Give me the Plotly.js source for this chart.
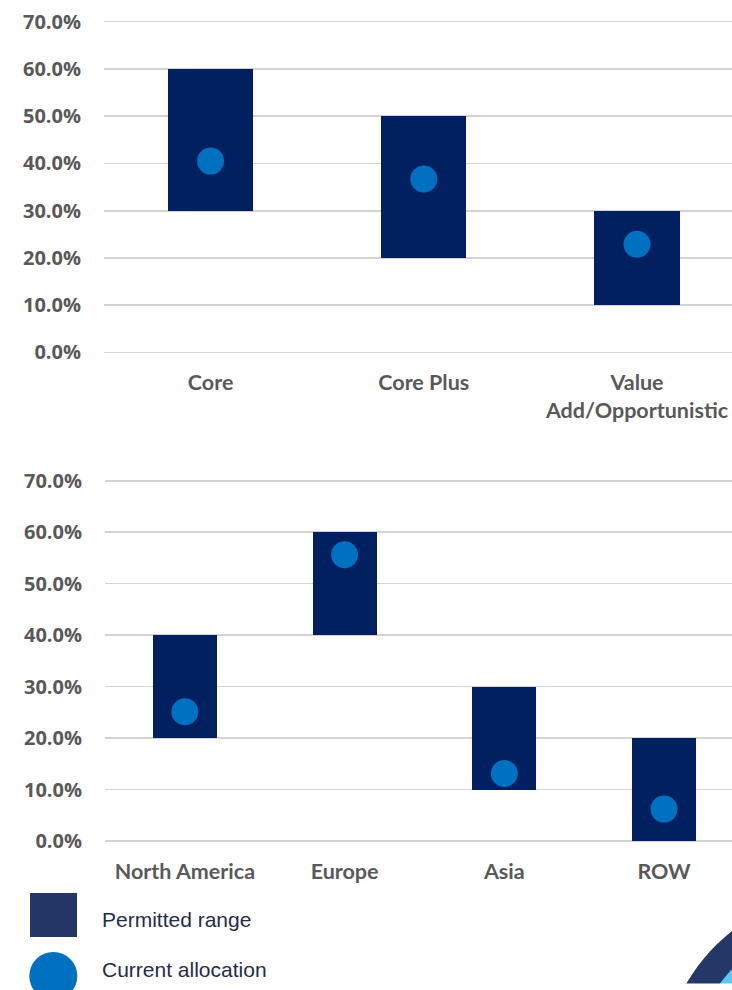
<!DOCTYPE html>
<html>
<head>
<meta charset="utf-8">
<script src="https://cdn.plot.ly/plotly-3.0.1.min.js"></script>
<style>
  html, body { margin: 0; padding: 0; background: #ffffff; }
  #chart { width: 732px; height: 990px; }
</style>
</head>
<body>
<div id="chart"></div>
<script>
// Strategy allocation: permitted range (floating bar) and current allocation (dot)
const strategyCats = ['Core', 'Core Plus', 'Value<br>Add/Opportunistic'];
const strategyLow = [0.30, 0.20, 0.10];
const strategyHigh = [0.60, 0.50, 0.30];
const strategyCurrent = [0.405, 0.367, 0.229];

// Regional allocation
const regionCats = ['North America', 'Europe', 'Asia', 'ROW'];
const regionLow = [0.20, 0.40, 0.10, 0.00];
const regionHigh = [0.40, 0.60, 0.30, 0.20];
const regionCurrent = [0.251, 0.556, 0.131, 0.062];

// Shared percentage ticks
const pctTicks = [0, 0.1, 0.2, 0.3, 0.4, 0.5, 0.6, 0.7];

// Legend entries
const legendLabels = ['Permitted range', 'Current allocation'];

const W = 732, H = 990;
const px = v => v / W;            // pixel x -> paper x
const py = v => (H - v) / H;      // pixel y (from top) -> paper y

const BAR_COLOR = '#002060';
const DOT_COLOR = '#0070C0';
const GRID = '#d3d3d3';
const LABEL = '#595959';

const spans = (lo, hi) => hi.map((h, i) => h - lo[i]);

const traces = [
  {
    type: 'bar', x: strategyCats, y: spans(strategyLow, strategyHigh), base: strategyLow,
    width: 0.4, marker: { color: BAR_COLOR, line: { width: 0 } },
    xaxis: 'x', yaxis: 'y', hoverinfo: 'skip', showlegend: false
  },
  {
    type: 'scatter', mode: 'markers', x: strategyCats, y: strategyCurrent,
    marker: { color: DOT_COLOR, size: 27 },
    xaxis: 'x', yaxis: 'y', hoverinfo: 'skip', showlegend: false
  },
  {
    type: 'bar', x: regionCats, y: spans(regionLow, regionHigh), base: regionLow,
    width: 0.4, marker: { color: BAR_COLOR, line: { width: 0 } },
    xaxis: 'x2', yaxis: 'y2', hoverinfo: 'skip', showlegend: false
  },
  {
    type: 'scatter', mode: 'markers', x: regionCats, y: regionCurrent,
    marker: { color: DOT_COLOR, size: 27 },
    xaxis: 'x2', yaxis: 'y2', hoverinfo: 'skip', showlegend: false
  }
];

const yTickFont = { family: 'Open Sans, sans-serif', size: 20, weight: 700, color: LABEL };
const xTickFont = { family: 'Lato, sans-serif', size: 21.5, weight: 700, color: LABEL };

// A small pad keeps the 0% and 70% gridlines inside the plot area;
// the domain is widened by the same amount so 0 and 0.7 land on the
// intended pixel rows.
const PAD = 0.004;
function yAxis(pix0, pix70) {
  const perUnit = (pix0 - pix70) / 0.7;
  const bottom = pix0 + PAD * perUnit;
  const top = pix70 - PAD * perUnit;
  return {
    domain: [py(bottom), py(top)], range: [-PAD, 0.7 + PAD],
    tickmode: 'array', tickvals: pctTicks,
    tickformat: '.1%', ticks: '', ticklabelstandoff: 22,
    showgrid: true, gridcolor: GRID, gridwidth: 1.6,
    zeroline: false, showline: false, fixedrange: true, tickfont: yTickFont
  };
}
function xAxis(domain, range, anchor, standoff) {
  return {
    domain: domain, range: range, type: 'category', anchor: anchor,
    ticks: '', ticklabelstandoff: standoff, showgrid: false, zeroline: false,
    showline: false, fixedrange: true, tickfont: xTickFont
  };
}

// Decorative arcs at the lower right
const arc = (cx, cy, r, color) => ({
  type: 'circle', xref: 'paper', yref: 'paper',
  x0: px(cx - r), x1: px(cx + r), y0: py(cy + r), y1: py(cy - r),
  fillcolor: color, line: { width: 0 }
});

const layout = {
  width: W, height: H,
  margin: { l: 0, r: 0, t: 0, b: 0 },
  paper_bgcolor: '#ffffff', plot_bgcolor: 'rgba(0,0,0,0)',
  showlegend: false, bargap: 0,
  xaxis: xAxis([px(104), 1], [-0.5, 2.4456], 'y', 13),
  yaxis: yAxis(352.5, 21.7),
  xaxis2: xAxis([px(105), 1], [-0.5, 3.4255], 'y2', 13),
  yaxis2: Object.assign(yAxis(841, 480.7), { anchor: 'x2' }),
  shapes: [
    {
      type: 'rect', xref: 'paper', yref: 'paper',
      x0: px(30), x1: px(77), y0: py(937), y1: py(893),
      fillcolor: '#243665', line: { width: 0 }
    },
    {
      type: 'circle', xref: 'paper', yref: 'paper',
      x0: px(29.3), x1: px(77.3), y0: py(1000), y1: py(952),
      fillcolor: DOT_COLOR, line: { width: 0 }
    },
    arc(854, 1083, 195, '#243867'),
    arc(854, 1083, 167, '#5bc8f5'),
    {
      type: 'rect', xref: 'paper', yref: 'paper',
      x0: px(640), x1: 1, y0: 0, y1: py(983.5),
      fillcolor: '#ffffff', line: { width: 0 }
    }
  ],
  annotations: legendLabels.map((t, i) => ({
    xref: 'paper', yref: 'paper', x: px(100), y: py(919 + i * 50),
    xanchor: 'left', yanchor: 'middle', showarrow: false, text: t,
    font: { family: 'Liberation Sans, Arial, sans-serif', size: 21, color: '#1f2c4c' }
  }))
};

Plotly.newPlot('chart', traces, layout, { staticPlot: true, displayModeBar: false });
</script>
</body>
</html>
